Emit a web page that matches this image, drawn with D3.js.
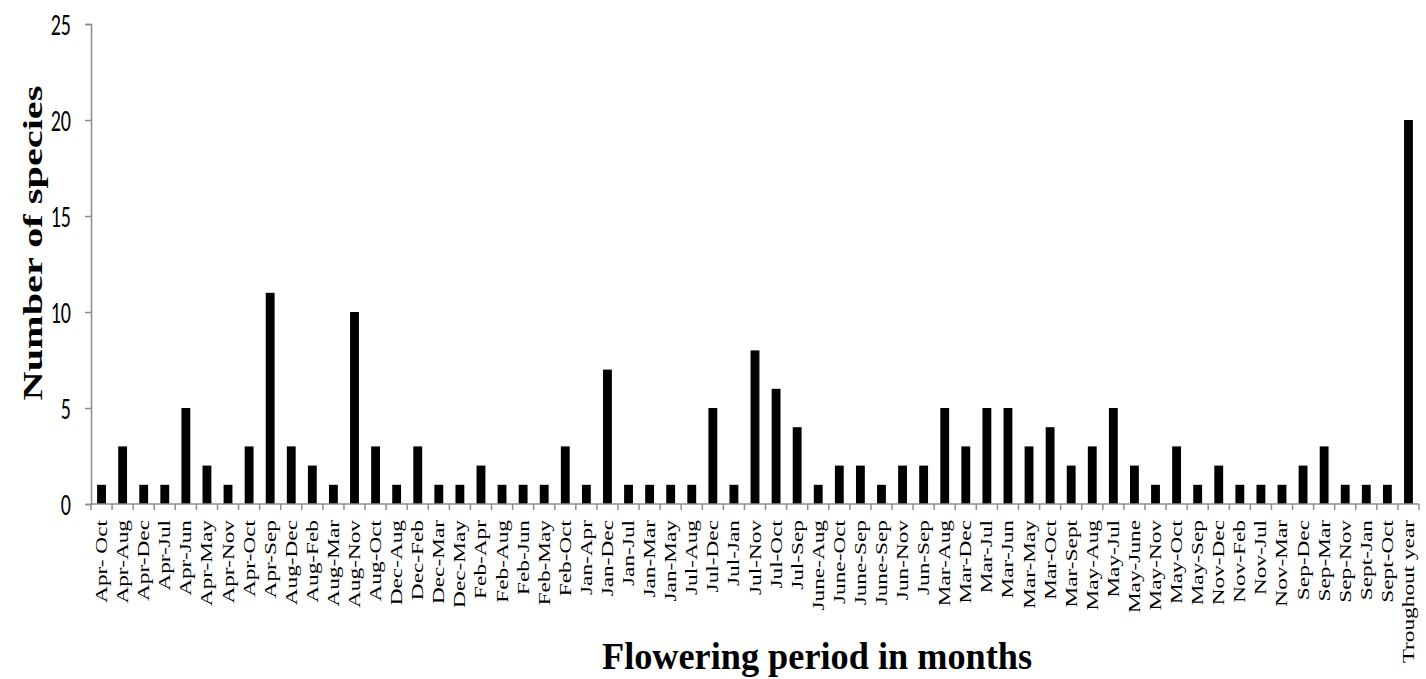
<!DOCTYPE html>
<html>
<head>
<meta charset="utf-8">
<script src="https://cdn.jsdelivr.net/npm/d3@7"></script>
<style>
body { margin: 0; background: #fff; }
</style>
</head>
<body>
<div id="chart"></div>
<script>
// flowering periods and number of species
var periods = ["Apr- Oct", "Apr-Aug", "Apr-Dec", "Apr-Jul", "Apr-Jun", "Apr-May", "Apr-Nov", "Apr-Oct",
  "Apr-Sep", "Aug-Dec", "Aug-Feb", "Aug-Mar", "Aug-Nov", "Aug-Oct", "Dec-Aug", "Dec-Feb", "Dec-Mar",
  "Dec-May", "Feb-Apr", "Feb-Aug", "Feb-Jun", "Feb-May", "Feb-Oct", "Jan-Apr", "Jan-Dec", "Jan-Jul",
  "Jan-Mar", "Jan-May", "Jul-Aug", "Jul-Dec", "Jul-Jan", "Jul-Nov", "Jul-Oct", "Jul-Sep", "June-Aug",
  "June-Oct", "June-Sep", "June-Sep ", "Jun-Nov", "Jun-Sep", "Mar-Aug", "Mar-Dec", "Mar-Jul", "Mar-Jun",
  "Mar-May", "Mar-Oct", "Mar-Sept", "May-Aug", "May-Jul", "May-June", "May-Nov", "May-Oct", "May-Sep",
  "Nov-Dec", "Nov-Feb", "Nov-Jul", "Nov-Mar", "Sep-Dec", "Sep-Mar", "Sep-Nov", "Sept-Jan", "Sept-Oct",
  "Troughout year"];
var species = [1, 3, 1, 1, 5, 2, 1, 3, 11, 3, 2, 1, 10, 3, 1, 3, 1, 1, 2, 1, 1, 1, 3, 1, 7, 1,
  1, 1, 1, 5, 1, 8, 6, 4, 1, 2, 2, 1, 2, 2, 5, 3, 5, 5, 3, 4, 2, 3, 5, 2, 1, 3, 1,
  2, 1, 1, 1, 2, 3, 1, 1, 1, 20];
var yTicks = [0, 5, 10, 15, 20, 25];

var width = 1426, height = 679;
var margin = {top: 24, right: 7, bottom: 175, left: 91};
var stretch = 1.55; // text in the original is drawn tall and narrow

var svg = d3.select("#chart").append("svg")
  .attr("width", width)
  .attr("height", height);

var x = d3.scaleBand()
  .domain(periods)
  .range([margin.left, width - margin.right])
  .paddingInner(0.58)
  .paddingOuter(0.29);

var y = d3.scaleLinear()
  .domain([0, 25])
  .range([height - margin.bottom, margin.top]);

// bars
svg.selectAll("rect.bar")
  .data(periods)
  .enter().append("rect")
  .attr("class", "bar")
  .attr("x", function(d) { return x(d); })
  .attr("y", function(d, i) { return y(species[i]); })
  .attr("width", x.bandwidth())
  .attr("height", function(d, i) { return y(0) - y(species[i]); })
  .style("fill", "black");

// y axis (labels drawn by hand so they can be stretched)
var yAxis = svg.append("g")
  .attr("transform", "translate(" + margin.left + ",0)")
  .call(d3.axisLeft(y).tickValues(yTicks).tickSize(6).tickFormat(""));
yAxis.select(".domain").attr("stroke", "#8c8c8c").attr("stroke-width", 1.5);
yAxis.selectAll(".tick line").attr("stroke", "#8c8c8c").attr("stroke-width", 1.5);

svg.selectAll("text.ytick")
  .data(yTicks)
  .enter().append("text")
  .attr("class", "ytick")
  .attr("transform", function(d) {
    return "translate(71," + y(d) + ") scale(1," + stretch + ")";
  })
  .attr("dy", "0.35em")
  .attr("text-anchor", "end")
  .style("font-family", "Carlito, 'Liberation Sans', sans-serif")
  .style("font-size", "20px")
  .text(function(d) { return d; });

// x axis: line plus ticks at category boundaries
var x0 = margin.left, x1 = width - margin.right;
var xAxis = svg.append("g").attr("transform", "translate(0," + y(0) + ")");
xAxis.append("line")
  .attr("x1", x0).attr("x2", x1)
  .attr("stroke", "#8c8c8c").attr("stroke-width", 1.5);
xAxis.selectAll("line.tk")
  .data(d3.range(periods.length + 1))
  .enter().append("line")
  .attr("class", "tk")
  .attr("x1", function(i) { return x0 + i * (x1 - x0) / periods.length; })
  .attr("x2", function(i) { return x0 + i * (x1 - x0) / periods.length; })
  .attr("y1", 0).attr("y2", 6)
  .attr("stroke", "#8c8c8c").attr("stroke-width", 1.5);

var labels = xAxis.selectAll("text.lbl")
  .data(periods)
  .enter().append("text")
  .attr("class", "lbl")
  .attr("text-anchor", "end")
  .style("font-family", "'Liberation Serif', 'Times New Roman', serif")
  .style("font-size", "16px")
  .text(function(d) { return d.trim(); });

// the first label "Apr- Oct" is about 83px long in the original
var lblScale = 83 / labels.node().getComputedTextLength();
labels.attr("transform", function(d) {
  return "translate(" + (x(d) + x.bandwidth() / 2 + 5.5) + ",16) rotate(-90) scale(" + lblScale + ",1)";
});

// axis titles
var yTitle = svg.append("text")
  .attr("text-anchor", "middle")
  .style("font-family", "'Liberation Serif', 'Times New Roman', serif")
  .style("font-weight", "bold")
  .style("font-size", "27px")
  .text("Number of species");
var yTitleScale = 315 / yTitle.node().getComputedTextLength();
yTitle.attr("transform", "translate(42,243) rotate(-90) scale(" + yTitleScale + ",1)");

svg.append("text")
  .attr("transform", "translate(602,669) scale(0.93,1)")
  .attr("text-anchor", "start")
  .style("font-family", "'Liberation Serif', 'Times New Roman', serif")
  .style("font-weight", "bold")
  .style("font-size", "39px")
  .text("Flowering period in months");
</script>
</body>
</html>
